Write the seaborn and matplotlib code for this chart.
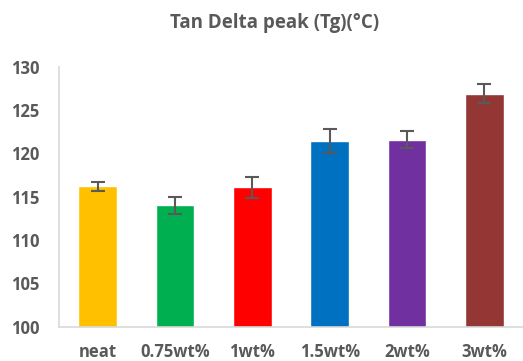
import matplotlib
matplotlib.use("Agg")
import matplotlib.pyplot as plt
import seaborn as sns
import pandas as pd

# Tan Delta peak values per filler loading
samples = ["neat", "0.75wt%", "1wt%", "1.5wt%", "2wt%", "3wt%"]
tg_peak = [116.2, 114.0, 116.1, 121.4, 121.6, 126.9]
tg_err = [0.5, 1.0, 1.2, 1.4, 1.0, 1.1]
bar_colors = ["#FFC000", "#00B050", "#FF0000", "#0070C0", "#7030A0", "#943634"]

df = pd.DataFrame({"sample": samples, "tg": tg_peak})

sns.set_style("white")
plt.rcParams['font.family'] = ['Open Sans', 'DejaVu Sans']

fig, ax = plt.subplots(figsize=(5.23, 3.61), dpi=100)
sns.barplot(data=df, x="sample", y="tg", hue="sample", palette=bar_colors,
            width=0.5, legend=False, ax=ax, saturation=1)
ax.errorbar(range(len(samples)), tg_peak, yerr=tg_err, fmt="none",
            ecolor="#595959", elinewidth=1.5, capsize=5, capthick=1.5)

ax.set_ylim(100, 130)
ax.set_xlim(-0.5, len(samples) - 0.5)
ax.set_yticks(range(100, 131, 5))
ax.set_xlabel("")
ax.set_ylabel("")
fig.text(0.525, 0.935, "Tan Delta peak (Tg)(°C)", fontsize=13.5, fontweight="bold",
         color="#595959", ha="center", va="center")

for side in ["top", "right"]:
    ax.spines[side].set_visible(False)
for side in ["left", "bottom"]:
    ax.spines[side].set_color("#D9D9D9")
    ax.spines[side].set_linewidth(1.2)
ax.tick_params(axis="y", length=0, labelsize=12, labelcolor="#595959", pad=14)
ax.tick_params(axis="x", length=0, labelsize=12, labelcolor="#595959", pad=12)
for lbl in ax.get_xticklabels() + ax.get_yticklabels():
    lbl.set_fontweight("bold")

plt.subplots_adjust(left=0.113, right=1.0, top=0.815, bottom=0.095)
plt.savefig("out.png", dpi=100)
